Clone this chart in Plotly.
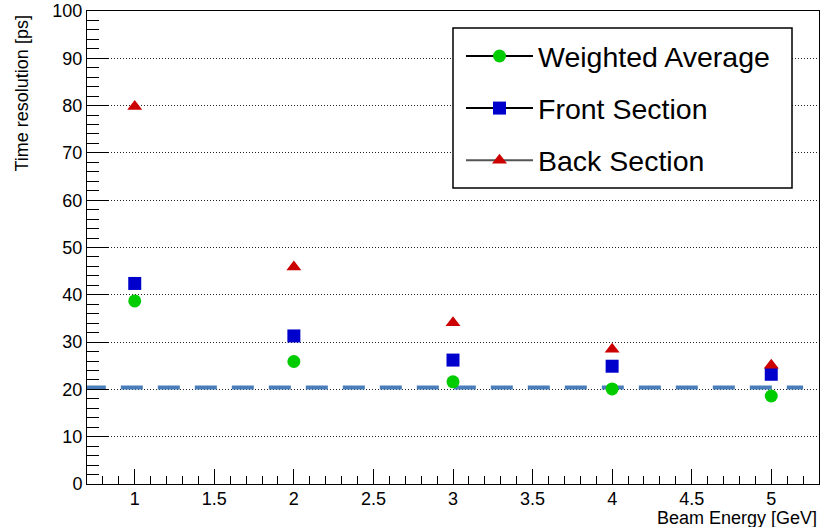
import plotly.graph_objects as go

energy = [1, 2, 3, 4, 5]
weighted_avg = [38.7, 25.9, 21.6, 20.1, 18.6]
front_section = [42.4, 31.3, 26.2, 24.9, 23.2]
back_section = [79.8, 45.9, 34.1, 28.5, 25.1]
target_x = [0.68, 5.2]
target_y = [20.4, 20.4]

FONT = "Liberation Sans, Arial, Helvetica, sans-serif"
GREEN = "#00cc00"
BLUE = "#0000cc"
RED = "#cc0000"

fig = go.Figure()

# reference dashed line
fig.add_trace(go.Scatter(
    x=target_x, y=target_y, mode="lines", cliponaxis=True,
    line=dict(color="#4a7ebb", width=4, dash="22px,15px"),
    showlegend=False, hoverinfo="skip"))

series = [
    ("Weighted Average", weighted_avg, GREEN, "circle", 13, "#000000"),
    ("Front Section", front_section, BLUE, "square", 13, "#000000"),
    ("Back Section", back_section, RED, "triangle-up", 13, "#555555"),
]
for i, (name, vals, col, sym, size, lcol) in enumerate(series):
    fig.add_trace(go.Scatter(
        x=energy, y=vals, mode="markers", name=name,
        marker=dict(color=col, symbol=sym, size=size, line=dict(width=0)),
        showlegend=False))
    # legend entry (line + marker)
    fig.add_trace(go.Scatter(
        x=[None], y=[None], mode="lines+markers", name=name,
        legendgroup="g%d" % i,
        line=dict(color=lcol, width=2),
        marker=dict(color=col, symbol=sym, size=size, line=dict(width=0)),
        showlegend=True))

fig.update_layout(
    width=831, height=527,
    margin=dict(l=87, r=12, t=11, b=43, autoexpand=False),
    paper_bgcolor="white", plot_bgcolor="white",
    font=dict(family=FONT, color="black", size=18),
    legend=dict(
        x=(461 - 87) / 732, y=(484 - 31) / 473, xanchor="left", yanchor="top",
        font=dict(family=FONT, size=28.5, color="black"),
        bgcolor="rgba(0,0,0,0)", borderwidth=0,
        itemwidth=67, tracegroupgap=12,
    ),
    shapes=[dict(type="rect", xref="paper", yref="paper",
                 x0=(453 - 87) / 732, x1=(792 - 87) / 732,
                 y0=(484 - 188) / 473, y1=(484 - 28) / 473,
                 line=dict(color="black", width=1.5), fillcolor="white",
                 layer="above")],
    annotations=[
        dict(text="Time resolution [ps]", xref="paper", yref="paper",
             x=(22 - 87) / 732, y=(484 - 93.5) / 473, textangle=-90,
             xanchor="center", yanchor="middle", showarrow=False,
             font=dict(family=FONT, size=18)),
        dict(text="Beam Energy [GeV]", xref="paper", yref="paper",
             x=(819 - 87) / 732, y=(484 - 518) / 473,
             xanchor="right", yanchor="middle", showarrow=False,
             font=dict(family=FONT, size=18)),
    ],
)

fig.update_xaxes(
    range=[0.7, 5.3], tick0=0, dtick=0.5, showgrid=False, zeroline=False,
    automargin=False, ticklabelstandoff=-2,
    showline=True, linecolor="black", linewidth=1, mirror=True,
    ticks="inside", ticklen=15, tickcolor="black", tickwidth=1,
    tickfont=dict(family=FONT, size=18),
    minor=dict(ticks="inside", dtick=0.1, ticklen=8, tickcolor="black", showgrid=False),
)
fig.update_yaxes(
    range=[0, 100], tick0=0, dtick=10, zeroline=False,
    automargin=False,
    showgrid=True, gridcolor="#222222", gridwidth=1, griddash="1px,2px",
    showline=True, linecolor="black", linewidth=1, mirror=True,
    ticks="inside", ticklen=22, tickcolor="black", tickwidth=1,
    tickfont=dict(family=FONT, size=18),
    minor=dict(ticks="inside", dtick=2, ticklen=12, tickcolor="black", showgrid=False),
)

fig.write_html("out.html")
